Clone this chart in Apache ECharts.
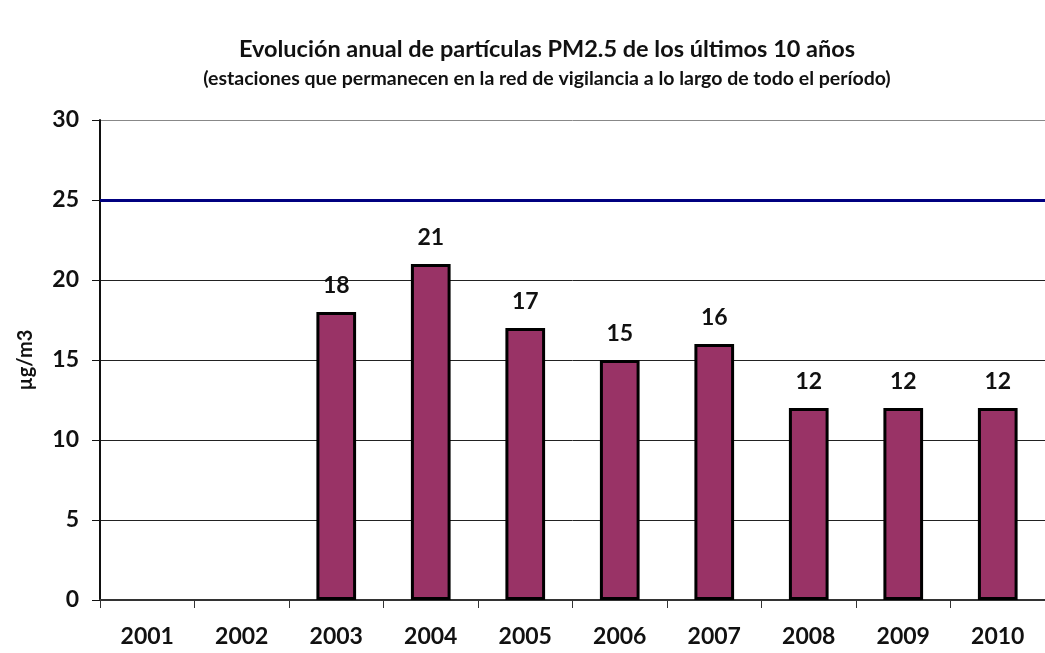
<!DOCTYPE html>
<html><head><meta charset="utf-8">
<script src="https://cdn.jsdelivr.net/npm/echarts@6/dist/echarts.min.js"></script>
<style>html,body{margin:0;padding:0;background:#fff}#c{width:1045px;height:653px}</style>
</head><body><div id="c"></div>
<script>
const years = ['2001','2002','2003','2004','2005','2006','2007','2008','2009','2010'];
const pm25 = [null, null, 18, 21, 17, 15, 16, 12, 12, 12];
const limitValue = 25;
const yTicks = [0, 5, 10, 15, 20, 25, 30];

const chart = echarts.init(document.getElementById('c'));
const F = 'Lato, "Open Sans", sans-serif';
chart.setOption({
  animation: false,
  title: [
    {text: 'Evolución anual de partículas PM2.5 de los últimos 10 años', left: 542, top: 32, textAlign: 'center',
     textStyle: {fontFamily: F, fontSize: 23.5, fontWeight: 'bold', color: '#111'}},
    {text: '(estaciones que permanecen en la red de vigilancia a lo largo de todo el período)', left: 542, top: 64, textAlign: 'center',
     textStyle: {fontFamily: F, fontSize: 19.5, fontWeight: 'bold', color: '#111'}}
  ],
  grid: {left: 100, top: 120, width: 955, height: 480, containLabel: false},
  xAxis: {
    type: 'category', data: years,
    axisLine: {lineStyle: {color: '#333', width: 2}},
    axisTick: {show: true, length: 8, alignWithLabel: false, lineStyle: {color: '#333', width: 1}},
    axisLabel: {fontFamily: F, fontSize: 23, fontWeight: 'bold', color: '#111', margin: 25}
  },
  yAxis: {
    type: 'value', min: yTicks[0], max: yTicks[yTicks.length-1], interval: 5,
    name: 'µg/m3', nameLocation: 'middle', nameGap: 64, nameRotate: 90,
    nameTextStyle: {fontFamily: F, fontSize: 20, fontWeight: 'bold', color: '#111'},
    axisLine: {show: true, lineStyle: {color: '#111', width: 2}},
    axisTick: {show: true, length: 8, lineStyle: {color: '#111'}},
    axisLabel: {fontFamily: F, fontSize: 23, fontWeight: 'bold', color: '#111', margin: 21},
    splitLine: {show: true, lineStyle: {color: ['#222','#222','#222','#222','#222','#222','#888'], width: 1}}
  },
  series: [{
    type: 'bar', data: pm25, barWidth: '42%',
    itemStyle: {color: '#993366', borderColor: '#000', borderWidth: 3},
    label: {show: true, position: 'top', distance: 15, fontFamily: F, fontSize: 23, fontWeight: 'bold', color: '#111'},
    markLine: {
      silent: true, symbol: 'none', label: {show: false},
      lineStyle: {color: '#000080', width: 3, type: 'solid'},
      data: [{yAxis: limitValue}]
    }
  }]
});
</script></body></html>
